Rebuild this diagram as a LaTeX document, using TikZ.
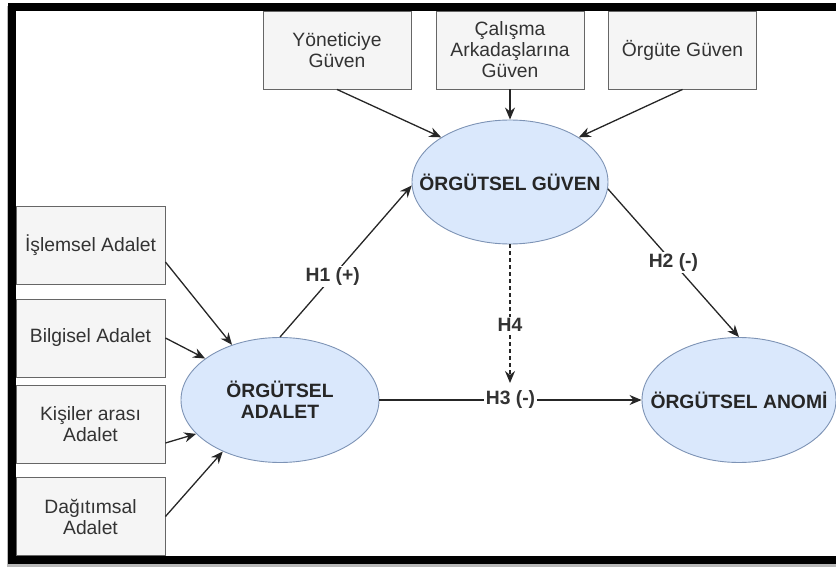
\documentclass[tikz,border=0pt]{standalone}
\usepackage{fontspec}
\setmainfont{Liberation Sans}
\usetikzlibrary{arrows.meta,shapes.geometric}
\definecolor{boxfill}{HTML}{F5F5F5}
\definecolor{boxline}{HTML}{666666}
\definecolor{ovalfill}{HTML}{DAE8FC}
\definecolor{ovalline}{HTML}{7D93B5}
\definecolor{inktext}{HTML}{333333}

\begin{document}
\begin{tikzpicture}[%
        x=1pt,y=-1pt,%
        box/.style={draw=boxline, fill=boxfill, line width=0.9pt,%
            minimum width=148pt, minimum height=78pt, inner sep=0pt,%
            align=center, text=inktext, font=\fontsize{19.3}{21}\selectfont},%
        oval/.style={ellipse, draw=ovalline, fill=ovalfill, line width=0.9pt,%
            inner sep=0pt},%
        ovaltext/.style={font=\bfseries\fontsize{19.3}{21}\selectfont,%
            text=black!85, align=center},%
        link/.style={-{Stealth[length=12pt,width=10pt]}, line width=1.3pt, black!85},%
        lab/.style={fill=white, inner sep=1.5pt, text=inktext,%
            font=\bfseries\fontsize{19.3}{21}\selectfont}%
    ]
        \useasboundingbox (0,0) rectangle (836,567);%

        %
        % Kutular
        %
        % Guven boyutlari
        \foreach \n/\x/\t in {yon/337/Yöneticiye\\Güven,%
                cal/510/Çalışma\\Arkadaşlarına\\Güven,%
                org/682.5/Örgüte Güven} {%
            \node[box] (\n) at (\x,50) {\t};%
        }%
        % Adalet boyutlari
        \foreach \n/\y/\t in {isl/245/İşlemsel Adalet,%
                bil/338/Bilgisel Adalet,%
                kis/424/Kişiler arası\\Adalet,%
                dag/516.5/Dağıtımsal\\Adalet} {%
            \node[box, minimum width=149pt] (\n) at (90.5,\y) {\t};%
        }%

        %
        % Elipsler
        %
        \node[oval, minimum width=196pt, minimum height=124pt,%
            label={[ovaltext]center:ÖRGÜTSEL GÜVEN}] (guven) at (510,182) {};%
        \node[oval, minimum width=198pt, minimum height=125pt,%
            label={[ovaltext]center:ÖRGÜTSEL\\ADALET}] (adalet) at (280,400) {};%
        \node[oval, minimum width=194pt, minimum height=125pt,%
            label={[ovaltext]center:ÖRGÜTSEL ANOMİ}] (anomi) at (739,400) {};%

        %
        % Oklar
        %
        \draw[link] (yon.south) -- (guven.147);%
        \draw[link] (cal.south) -- (guven.north);%
        \draw[link] (org.south) -- (guven.33);%

        \draw[link] ([yshift=-17pt]isl.east) -- (adalet.131);%
        \draw[link] (bil.east) -- (adalet.151);%
        \draw[link] ([yshift=-19pt]kis.east) -- (adalet.202);%
        \draw[link] (dag.east) -- (adalet.222);%

        % Hipotezler
        \draw[link] (adalet.north) -- node[lab, pos=0.4] {H1 (+)} (guven.182);%
        \draw[link] (guven.356) -- node[lab, pos=0.5] {H2 (-)} (anomi.north);%
        \draw[link] (adalet.east) -- node[lab, pos=0.5] {H3 (-)} (anomi.west);%
        \coordinate (h4 end) at (510,383);%
        \draw[link, dash pattern=on 4pt off 3pt] (guven.south)%
        -- node[lab, pos=0.58] {H4} (h4 end);%

        %
        % Cerceve
        %
        \fill[gray!55] (7,6) rectangle (9,567);%
        \fill[gray!55] (7,563) rectangle (836,567);%
        \fill[black] (8,3) rectangle (836,11);%
        \fill[black] (8,3) rectangle (16,564);%
        \fill[black] (8,556) rectangle (836,564);%
    \end{tikzpicture}
\end{document}
